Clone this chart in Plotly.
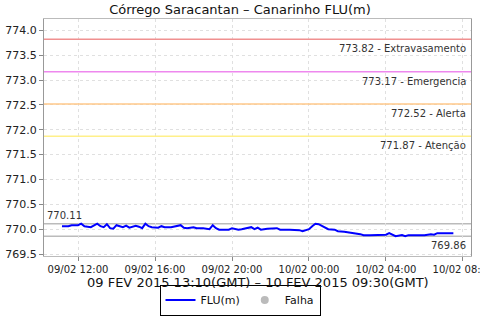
import plotly.graph_objects as go

times = [
    "2015-02-09 11:10", "2015-02-09 11:30", "2015-02-09 11:40", "2015-02-09 12:00",
    "2015-02-09 12:10", "2015-02-09 12:20", "2015-02-09 12:40", "2015-02-09 13:00",
    "2015-02-09 13:10", "2015-02-09 13:20", "2015-02-09 13:30", "2015-02-09 13:40",
    "2015-02-09 13:50", "2015-02-09 14:00", "2015-02-09 14:20", "2015-02-09 14:30",
    "2015-02-09 14:40", "2015-02-09 15:00", "2015-02-09 15:10", "2015-02-09 15:20",
    "2015-02-09 15:30", "2015-02-09 15:40", "2015-02-09 15:50", "2015-02-09 16:10",
    "2015-02-09 16:20", "2015-02-09 16:30", "2015-02-09 16:50", "2015-02-09 17:20",
    "2015-02-09 17:30", "2015-02-09 17:40", "2015-02-09 18:00", "2015-02-09 18:10",
    "2015-02-09 18:30", "2015-02-09 18:50", "2015-02-09 19:00", "2015-02-09 19:10",
    "2015-02-09 19:20", "2015-02-09 19:50", "2015-02-09 20:00", "2015-02-09 20:20",
    "2015-02-09 20:30", "2015-02-09 20:50", "2015-02-09 21:00", "2015-02-09 21:10",
    "2015-02-09 21:20", "2015-02-09 21:30", "2015-02-09 21:50", "2015-02-09 22:20",
    "2015-02-09 22:30", "2015-02-09 23:00", "2015-02-09 23:30", "2015-02-09 23:40",
    "2015-02-09 23:50", "2015-02-10 00:00", "2015-02-10 00:10", "2015-02-10 00:20",
    "2015-02-10 00:30", "2015-02-10 00:50", "2015-02-10 01:00", "2015-02-10 01:20",
    "2015-02-10 01:30", "2015-02-10 01:50", "2015-02-10 02:10", "2015-02-10 02:20",
    "2015-02-10 02:40", "2015-02-10 02:50", "2015-02-10 03:10", "2015-02-10 03:40",
    "2015-02-10 04:00", "2015-02-10 04:10", "2015-02-10 04:20", "2015-02-10 04:30",
    "2015-02-10 04:50", "2015-02-10 05:00", "2015-02-10 05:10", "2015-02-10 05:40",
    "2015-02-10 05:50", "2015-02-10 06:00", "2015-02-10 06:20", "2015-02-10 06:30",
    "2015-02-10 06:40", "2015-02-10 06:50", "2015-02-10 07:20", "2015-02-10 07:30",
]
flu = [
    770.06, 770.06, 770.08, 770.08, 770.11, 770.06, 770.04, 770.11,
    770.06, 770.04, 770.10, 770.02, 770.01, 770.08, 770.04, 770.07,
    770.03, 770.07, 770.05, 770.02, 770.11, 770.06, 770.04, 770.03,
    770.06, 770.04, 770.04, 770.08, 770.03, 770.02, 770.04, 770.02,
    770.02, 770.00, 770.08, 770.02, 769.99, 769.99, 770.02, 769.99,
    770.00, 770.03, 770.04, 770.00, 770.03, 769.99, 770.01, 770.02,
    769.99, 769.99, 769.98, 769.96, 769.98, 770.00, 770.06, 770.11,
    770.10, 770.04, 770.00, 769.99, 769.96, 769.95, 769.94, 769.92,
    769.90, 769.88, 769.88, 769.88, 769.89, 769.92, 769.89, 769.86,
    769.88, 769.86, 769.88, 769.88, 769.89, 769.88, 769.90, 769.89,
    769.92, 769.92, 769.92, 769.92,
]

limit_values = [773.82, 773.17, 772.52, 771.87]
limit_names = ["Extravasamento", "Emergencia", "Alerta", "Atenção"]
limit_colors = ["#F09090", "#EE88EE", "#FFC98A", "#FFF08A"]

max_val = 770.11
min_val = 769.86

title = "Córrego Saracantan – Canarinho FLU(m)"
x_title = "09 FEV 2015 13:10(GMT) – 10 FEV 2015 09:30(GMT)"

FONT = "DejaVu Sans"

fig = go.Figure()
fig.add_trace(go.Scatter(
    x=times, y=flu, mode="lines", name="FLU(m)",
    line=dict(color="#0000FF", width=2), hoverinfo="skip",
))
fig.add_trace(go.Scatter(
    x=[None], y=[None], mode="markers", name="Falha",
    marker=dict(color="#BBBBBB", size=8, symbol="circle"),
))

shapes = []
annotations = []
for v, n, c in zip(limit_values, limit_names, limit_colors):
    shapes.append(dict(type="line", xref="paper", x0=0, x1=1, yref="y", y0=v, y1=v,
                       line=dict(color=c, width=1.5), layer="above"))
    annotations.append(dict(xref="paper", x=1, xanchor="right", xshift=-3,
                            yref="y", y=v, yanchor="top", yshift=-2,
                            text=f"{v:.2f} - {n}", showarrow=False,
                            font=dict(family=FONT, size=10, color="#333333")))
for v in (max_val, min_val):
    shapes.append(dict(type="line", xref="paper", x0=0, x1=1, yref="y", y0=v, y1=v,
                       line=dict(color="#BBBBBB", width=1.5), layer="below"))
annotations.append(dict(xref="paper", x=0, xanchor="left", xshift=1,
                        yref="y", y=max_val, yanchor="bottom", yshift=1,
                        text=f"{max_val:.2f}", showarrow=False,
                        font=dict(family=FONT, size=10, color="#333333")))
annotations.append(dict(xref="paper", x=1, xanchor="right", xshift=-3,
                        yref="y", y=min_val, yanchor="top", yshift=-2,
                        text=f"{min_val:.2f}", showarrow=False,
                        font=dict(family=FONT, size=10, color="#333333")))
annotations.append(dict(xref="paper", x=0.5, xanchor="center",
                        yref="paper", y=0, yanchor="top", yshift=-17,
                        text=x_title, showarrow=False,
                        font=dict(family=FONT, size=13, color="#111111")))

fig.update_layout(
    width=480, height=320,
    margin=dict(l=44, r=9, t=19, b=64, autoexpand=False),
    paper_bgcolor="white", plot_bgcolor="white",
    font=dict(family=FONT, size=11, color="#111111"),
    title=dict(text=title, x=0.5, xref="container", xanchor="center",
               y=1 - 9 / 320, yref="container", yanchor="middle",
               font=dict(family=FONT, size=13, color="#111111")),
    showlegend=True,
    legend=dict(orientation="h", x=0.5, xref="container", xanchor="center",
                y=1 - 300 / 320, yref="container", yanchor="middle",
                bordercolor="#000000", borderwidth=1, bgcolor="white",
                font=dict(family=FONT, size=11, color="#111111"),
                itemwidth=30, tracegroupgap=0),
    shapes=shapes, annotations=annotations,
    hovermode=False,
)
fig.update_xaxes(
    type="date", range=["2015-02-09 10:14", "2015-02-10 08:25"],
    tickformat="%d/%m %H:%M", dtick=4 * 3600 * 1000, tick0="2015-02-09 00:00",
    showgrid=True, gridcolor="#E0E0E0", griddash="3px,3px", gridwidth=1,
    ticks="outside", ticklen=4, tickcolor="#888888",
    showline=True, linecolor="#BBBBBB", mirror=True, zeroline=False,
    ticklabeloverflow="allow", automargin=False,
    tickfont=dict(family=FONT, size=10, color="#222222"),
)
fig.update_yaxes(
    range=[769.46, 774.23], dtick=0.5, tick0=769.5, tickformat=".1f",
    showgrid=True, gridcolor="#E0E0E0", griddash="3px,3px", gridwidth=1,
    ticks="outside", ticklen=4, tickcolor="#888888",
    showline=True, linecolor="#999999", mirror=True, zeroline=False,
    automargin=False,
    tickfont=dict(family=FONT, size=11, color="#222222"),
)

fig.write_html("out.html")
